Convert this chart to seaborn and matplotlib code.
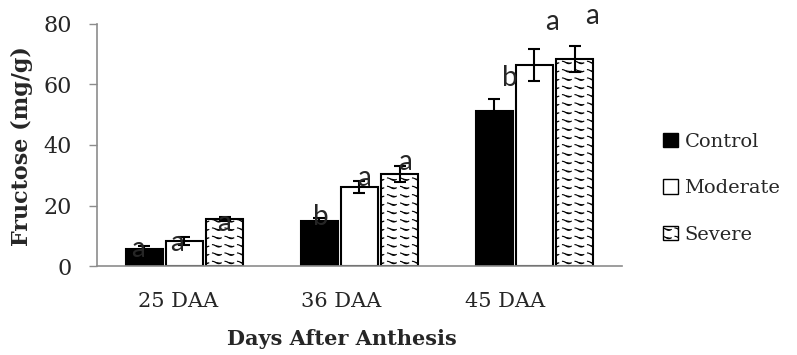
import warnings
import numpy as np
import pandas as pd
import seaborn as sns
import matplotlib
matplotlib.use("Agg")
import matplotlib.pyplot as plt
from matplotlib import hatch as mhatch
from matplotlib.path import Path
from matplotlib.patches import Patch

warnings.filterwarnings("ignore")

stages = ['25 DAA', '36 DAA', '45 DAA']
treatments = ['Control', 'Moderate', 'Severe']
control = [5.6, 14.9, 51.2]
moderate = [8.3, 26.1, 66.4]
severe = [15.5, 30.4, 68.4]
control_err = [1.0, 1.0, 4.0]
moderate_err = [1.3, 2.1, 5.3]
severe_err = [0.7, 2.6, 4.2]
control_sig = ['a', 'b', 'b']
moderate_sig = ['a', 'a', 'a']
severe_sig = ['a', 'a', 'a']

# where the letters sit (offset from bar centre, height in data units)
sig_dx = [[-0.034, 0.01, 0.09], [-0.04, 0.025, 0.10], [-0.006, 0.03, 0.10]]
sig_y = [[5.6, 16.2, 62.0], [7.6, 29.0, 80.7], [14.2, 34.4, 82.6]]


# wavy fill like the Excel pattern
class WaveHatch(mhatch.HatchPatternBase):
    def __init__(self, hatch, density):
        self.rows = 12 * hatch.count('~')
        self.waves = 8
        self.steps = 8
        self.num_vertices = self.rows * self.waves * self.steps

    def set_vertices_and_codes(self, vertices, codes):
        t = np.linspace(0, 0.7, self.steps)
        k = 0
        for i in range(self.rows):
            y0 = (i + 0.5) / self.rows
            for j in range(self.waves):
                vertices[k:k + self.steps, 0] = (j + t) / self.waves
                vertices[k:k + self.steps, 1] = y0 + 0.012 * np.cos(2 * np.pi * t)
                codes[k] = Path.MOVETO
                codes[k + 1:k + self.steps] = Path.LINETO
                k += self.steps


mhatch._hatch_types.append(WaveHatch)

sns.set_style("white")
plt.rcParams['font.family'] = ['DejaVu Serif']
plt.rcParams['hatch.linewidth'] = 0.8

df = pd.DataFrame({
    'Stage': stages * 3,
    'Treatment': np.repeat(treatments, len(stages)),
    'Fructose': control + moderate + severe,
})

fig = plt.figure(figsize=(7.97, 3.55), dpi=100)
ax = fig.add_axes([0.1217, 0.2507, 0.6587, 0.6817])

sns.barplot(data=df, x='Stage', y='Fructose', hue='Treatment',
            palette=['black', 'white', 'white'], saturation=1,
            edgecolor='black', linewidth=1.5, width=0.69, gap=0.08,
            errorbar=None, legend=False, ax=ax)

bar_groups = list(ax.containers)[:3]
for bar in bar_groups[2]:
    bar.set_hatch('~')

errs = [control_err, moderate_err, severe_err]
vals = [control, moderate, severe]
sigs = [control_sig, moderate_sig, severe_sig]
for i, cont in enumerate(bar_groups):
    xs = [b.get_x() + b.get_width() / 2 for b in cont]
    ax.errorbar(xs, vals[i], yerr=errs[i], fmt='none', ecolor='black',
                elinewidth=1.5, capsize=4.5, capthick=1.5, zorder=5)
    for j, x in enumerate(xs):
        ax.text(x + sig_dx[i][j], sig_y[i][j], sigs[i][j], ha='center', va='center',
                family='Lato', fontsize=20, clip_on=False, zorder=6)

ax.set_xlim(-0.5, 2.5)
ax.set_ylim(0, 80)
ax.set_yticks([0, 20, 40, 60, 80])
tick_pos = (np.arange(len(stages)) - 0.04) * 0.935
ax.set_xticks(tick_pos, stages)

sns.despine(ax=ax)
for side in ['left', 'bottom']:
    ax.spines[side].set_color('#8c8c8c')
    ax.spines[side].set_linewidth(1.2)
ax.tick_params(axis='y', length=6, width=1, color='#8c8c8c', pad=12, labelsize=16, left=True)
ax.tick_params(axis='x', length=0, pad=19, labelsize=15)

ax.set_xlabel('Days After Anthesis', fontsize=15, fontweight='bold')
ax.set_ylabel('Fructose (mg/g)', fontsize=16, fontweight='bold')
ax.xaxis.set_label_coords(0.467, -0.262)
ax.yaxis.set_label_coords(-0.122, 0.496)

handles = [Patch(facecolor='black', edgecolor='black'),
           Patch(facecolor='white', edgecolor='black'),
           Patch(facecolor='white', edgecolor='black', hatch='~')]
fig.legend(handles, treatments, loc='upper left', bbox_to_anchor=(0.832, 0.625),
           frameon=False, fontsize=14, handlelength=0.75, handleheight=0.75,
           handletextpad=0.35, labelspacing=1.45, borderpad=0, borderaxespad=0)

fig.savefig('out.png', dpi=100)
